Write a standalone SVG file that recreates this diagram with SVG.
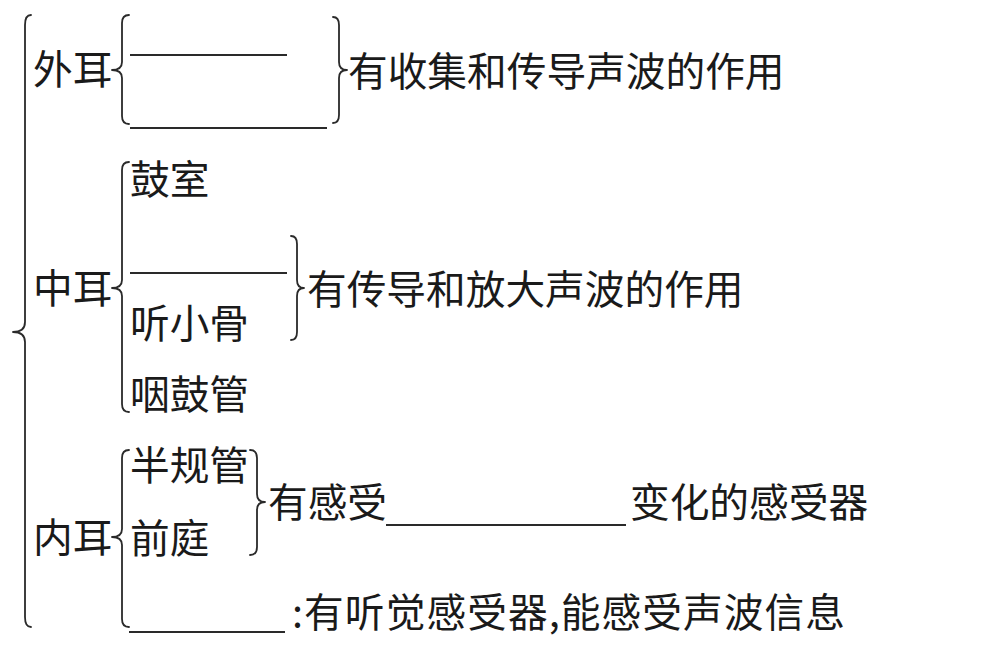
<svg xmlns="http://www.w3.org/2000/svg" width="999" height="652" viewBox="0 0 999 652">
<style>
text{font-family:"Noto Sans CJK SC","Noto Sans CJK TC",sans-serif;font-size:39.7px;fill:#1a1a1a}
.b{fill:none;stroke:#2a2a2a;stroke-width:1.8;stroke-linecap:round;stroke-linejoin:round}
.u{stroke:#2a2a2a;stroke-width:1.8}
</style>
<rect width="999" height="652" fill="#fff"/>
<g id="ear">
<path class="b" d="M31,15 Q25,15 25,25 L25,322 Q25,332 13,332 Q25,332 25,342 L25,617 Q25,627 31,627"/>
</g>
<g id="outer-ear">
<text x="33" y="84">外耳</text>
<path class="b" d="M129,15 Q122,15 122,23 L122,62 Q122,70 112,70 Q122,70 122,78 L122,116 Q122,124 129,124"/>
<line class="u" x1="130" y1="55" x2="287" y2="55"/>
<line class="u" x1="130" y1="128" x2="327" y2="128"/>
<path class="b" d="M333,17 Q339,17 339,25 L339,62 Q339,70 347,70 Q339,70 339,78 L339,115 Q339,123 333,123"/>
<text x="348" y="86">有收集和传导声波的作用</text>
</g>
<g id="middle-ear">
<text x="33" y="303">中耳</text>
<path class="b" d="M129,162 Q122,162 122,170 L122,280 Q122,288 112,288 Q122,288 122,296 L122,404 Q122,412 129,412"/>
<text x="130" y="194">鼓室</text>
<line class="u" x1="130" y1="273" x2="287" y2="273"/>
<text x="130" y="338">听小骨</text>
<text x="130" y="409">咽鼓管</text>
<path class="b" d="M291,236 Q297,236 297,244 L297,280 Q297,288 304,288 Q297,288 297,296 L297,332 Q297,340 291,340"/>
<text x="307" y="304">有传导和放大声波的作用</text>
</g>
<g id="inner-ear">
<text x="33" y="552">内耳</text>
<path class="b" d="M129,450 Q122,450 122,458 L122,529 Q122,537 112,537 Q122,537 122,545 L122,619 Q122,627 129,627"/>
<text x="130" y="480">半规管</text>
<text x="130" y="553">前庭</text>
<path class="b" d="M250,450 Q257,450 257,458 L257,494 Q257,502 265,502 Q257,502 257,510 L257,547 Q257,555 250,555"/>
<text x="268" y="517">有感受</text>
<line class="u" x1="386" y1="525" x2="626" y2="525"/>
<text x="630" y="517">变化的感受器</text>
<line class="u" x1="129" y1="632" x2="285" y2="632"/>
<text x="292" y="627" textLength="553" lengthAdjust="spacing">:有听觉感受器,能感受声波信息</text>
</g>
</svg>
